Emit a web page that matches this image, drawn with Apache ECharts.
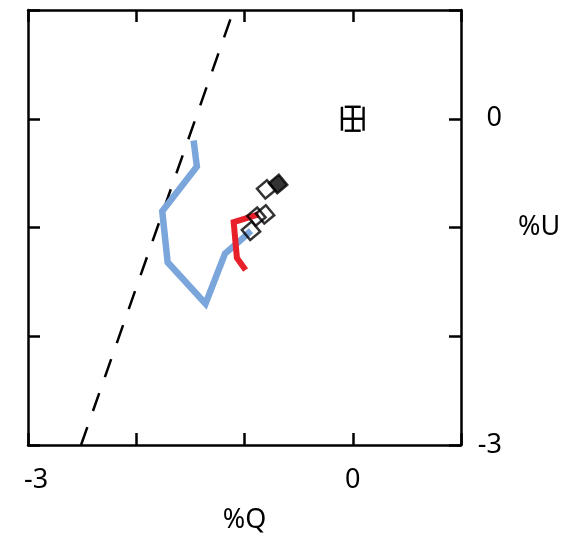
<!DOCTYPE html>
<html>
<head>
<meta charset="utf-8">
<script src="https://cdn.jsdelivr.net/npm/echarts@6/dist/echarts.min.js"></script>
<style>html,body{margin:0;padding:0;background:#fff;}#c{width:574px;height:536px;}</style>
</head>
<body>
<div id="c"></div>
<script>
// Data
const xTickLabels = [-3, 0];
const yTickLabels = [0, -3];
const dashX = [-2.51, -1.10];
const dashY = [-3, 1];
const blueX = [-1.47, -1.44, -1.76, -1.71, -1.36, -1.18, -1.04, -0.94];
const blueY = [-0.20, -0.44, -0.85, -1.32, -1.70, -1.24, -1.12, -1.03];
const redX = [-0.87, -1.10, -1.07, -0.99];
const redY = [-0.88, -0.95, -1.28, -1.39];
const openX = [-0.80, -0.81, -0.89, -0.94];
const openY = [-0.65, -0.88, -0.90, -1.03];
const filledX = [-0.69];
const filledY = [-0.60];
const refX = [0];
const refY = [0];
const refXErr = [0.1];
const refYErr = [0.11];

const zip = (a, b) => a.map((v, i) => [v, b[i]]);
const FONT = '"Noto Sans", sans-serif';
const axisLineStyle = { color: '#000', width: 2.5 };

function xLabel(v) {
  if (!xTickLabels.includes(v)) return '';
  return v === -3 ? '{p|' + String(v) + '}' : String(v);
}
function yLabel(v) {
  return yTickLabels.includes(v) ? String(v) : '';
}

const chart = echarts.init(document.getElementById('c'));
chart.setOption({
  animation: false,
  grid: { left: 28, right: 113, top: 10, bottom: 91, containLabel: false, outerBoundsMode: 'none' },
  xAxis: [
    {
      type: 'value', min: -3, max: 1, interval: 1, position: 'bottom',
      axisLine: { show: true, onZero: false, lineStyle: axisLineStyle },
      axisTick: { show: true, inside: true, length: 12, lineStyle: axisLineStyle },
      splitLine: { show: false },
      axisLabel: {
        formatter: xLabel, fontSize: 27, color: '#000', fontFamily: FONT, margin: 22,
        rich: { p: { fontSize: 27, color: '#000', fontFamily: FONT, padding: [0, 0, 0, 16] } }
      },
      name: '%Q', nameLocation: 'middle', nameGap: 62,
      nameTextStyle: { fontSize: 27, color: '#000', fontFamily: FONT }
    },
    {
      type: 'value', min: -3, max: 1, interval: 1, position: 'top',
      axisLine: { show: true, onZero: false, lineStyle: axisLineStyle },
      axisTick: { show: true, inside: true, length: 12, lineStyle: axisLineStyle },
      splitLine: { show: false },
      axisLabel: { show: false }
    }
  ],
  yAxis: [
    {
      type: 'value', min: -3, max: 1, interval: 1, position: 'right',
      axisLine: { show: true, onZero: false, lineStyle: axisLineStyle },
      axisTick: { show: true, inside: true, length: 12, lineStyle: axisLineStyle },
      splitLine: { show: false },
      axisLabel: { formatter: yLabel, fontSize: 27, color: '#000', fontFamily: FONT, align: 'right', margin: 41 },
      name: '%U', nameLocation: 'middle', nameGap: 57, nameRotate: 0,
      nameTextStyle: { fontSize: 27, color: '#000', fontFamily: FONT, align: 'left' }
    },
    {
      type: 'value', min: -3, max: 1, interval: 1, position: 'left',
      axisLine: { show: true, onZero: false, lineStyle: axisLineStyle },
      axisTick: { show: true, inside: true, length: 12, lineStyle: axisLineStyle },
      splitLine: { show: false },
      axisLabel: { show: false }
    }
  ],
  series: [
    {
      type: 'line', data: zip(dashX, dashY), symbol: 'none', silent: true,
      lineStyle: { color: '#000', width: 2.5, type: [19, 17] }, z: 2
    },
    {
      type: 'line', data: zip(blueX, blueY), symbol: 'none',
      lineStyle: { color: '#7aa6dc', width: 6.5, join: 'miter' }, z: 3
    },
    {
      type: 'line', data: zip(redX, redY), symbol: 'none',
      lineStyle: { color: '#e8202a', width: 6, join: 'miter' }, z: 4
    },
    {
      type: 'scatter', data: zip(openX, openY), symbol: 'rect', symbolSize: 13, symbolRotate: 40,
      itemStyle: { color: 'rgba(0,0,0,0)', borderColor: '#000', borderWidth: 2.5 }, z: 5
    },
    {
      type: 'scatter', data: zip(filledX, filledY), symbol: 'rect', symbolSize: 13, symbolRotate: 40,
      itemStyle: { color: '#000', borderColor: '#000', borderWidth: 2.5 }, z: 6
    },
    {
      type: 'custom', z: 7,
      data: refX.map((v, i) => [v, refY[i], refXErr[i], refYErr[i]]),
      renderItem: function (params, api) {
        const x = api.value(0), y = api.value(1), ex = api.value(2), ey = api.value(3);
        const l = api.coord([x - ex, y]), r = api.coord([x + ex, y]);
        const t = api.coord([x, y + ey]), b = api.coord([x, y - ey]);
        const capH = 12, capW = 8;
        const st = { stroke: '#000', lineWidth: 2.4 };
        const ln = (x1, y1, x2, y2) => ({ type: 'line', shape: { x1, y1, x2, y2 }, style: st });
        return {
          type: 'group',
          children: [
            ln(l[0], l[1], r[0], r[1]),
            ln(t[0], t[1], b[0], b[1]),
            ln(l[0], l[1] - capH, l[0], l[1] + capH),
            ln(r[0], r[1] - capH, r[0], r[1] + capH),
            ln(t[0] - capW, t[1], t[0] + capW, t[1]),
            ln(b[0] - capW, b[1], b[0] + capW, b[1])
          ]
        };
      }
    }
  ]
});
</script>
</body>
</html>
